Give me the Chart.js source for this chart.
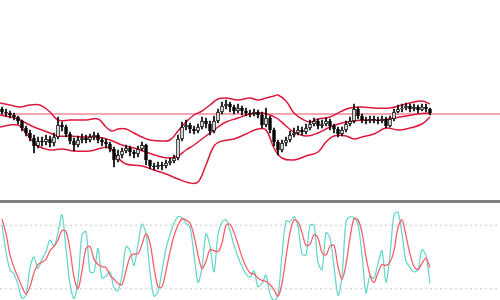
<!DOCTYPE html>
<html lang="en">
<head>
  <meta charset="UTF-8" />
  <title>Price chart</title>
  <style>
    html, body {
      margin: 0;
      padding: 0;
      background: #fff;
      overflow: hidden;
      width: 500px;
      height: 300px;
    }

    #main {
      position: absolute;
      left: 0;
      top: 0;
    }

    #sep {
      position: absolute;
      left: 0;
      top: 200px;
      width: 500px;
      height: 3px;
      background: #808080;
    }

    #stoch {
      position: absolute;
      left: 0;
      top: 204px;
    }
  </style>
</head>
<body>
  <canvas id="main" width="500" height="200"></canvas>
  <div id="sep"></div>
  <canvas id="stoch" width="500" height="106"></canvas>
  <script src="https://cdn.jsdelivr.net/npm/chart.js@4.4.0/dist/chart.umd.min.js"></script>
  <script>
    // candles, one per bar
    const opens = [1.2982,1.2976,1.2974,1.2970,1.2966,1.2958,1.2944,1.2934,1.2924,1.2908,
      1.2918,1.2916,1.2922,1.2914,1.2926,1.2950,1.2946,1.2932,1.2918,1.2910,
      1.2920,1.2924,1.2920,1.2926,1.2930,1.2920,1.2916,1.2912,1.2902,1.2880,
      1.2890,1.2898,1.2904,1.2896,1.2892,1.2902,1.2910,1.2880,1.2868,1.2866,
      1.2870,1.2868,1.2874,1.2878,1.2884,1.2922,1.2946,1.2950,1.2942,1.2938,
      1.2946,1.2958,1.2952,1.2938,1.2958,1.2976,1.2988,1.2992,1.2986,1.2978,
      1.2984,1.2978,1.2974,1.2972,1.2976,1.2970,1.2950,1.2964,1.2940,1.2916,
      1.2900,1.2914,1.2920,1.2930,1.2934,1.2940,1.2936,1.2944,1.2952,1.2958,
      1.2948,1.2952,1.2958,1.2948,1.2942,1.2932,1.2940,1.2952,1.2958,1.2982,
      1.2968,1.2960,1.2958,1.2962,1.2960,1.2958,1.2962,1.2948,1.2962,1.2976,
      1.2982,1.2984,1.2988,1.2982,1.2986,1.2980,1.2986,1.2982];
    const closes = [1.2976,1.2974,1.2970,1.2966,1.2958,1.2944,1.2934,1.2924,1.2908,1.2918,
      1.2916,1.2922,1.2914,1.2926,1.2950,1.2946,1.2932,1.2918,1.2910,1.2920,
      1.2924,1.2920,1.2926,1.2930,1.2920,1.2916,1.2912,1.2902,1.2880,1.2890,
      1.2898,1.2904,1.2896,1.2892,1.2902,1.2910,1.2880,1.2868,1.2866,1.2870,
      1.2868,1.2874,1.2878,1.2884,1.2922,1.2946,1.2950,1.2942,1.2938,1.2946,
      1.2958,1.2952,1.2938,1.2958,1.2976,1.2988,1.2992,1.2986,1.2978,1.2984,
      1.2978,1.2974,1.2972,1.2976,1.2970,1.2950,1.2964,1.2940,1.2916,1.2900,
      1.2914,1.2920,1.2930,1.2934,1.2940,1.2936,1.2944,1.2952,1.2958,1.2948,
      1.2952,1.2958,1.2948,1.2942,1.2932,1.2940,1.2952,1.2958,1.2982,1.2968,
      1.2960,1.2958,1.2962,1.2960,1.2958,1.2962,1.2948,1.2962,1.2976,1.2982,
      1.2984,1.2988,1.2982,1.2986,1.2980,1.2986,1.2982,1.2974];
    const highs = [1.2986,1.2982,1.2978,1.2974,1.2968,1.2960,1.2948,1.2940,1.2930,1.2926,
      1.2926,1.2930,1.2928,1.2934,1.2966,1.2956,1.2950,1.2936,1.2924,1.2928,
      1.2932,1.2930,1.2932,1.2936,1.2934,1.2924,1.2922,1.2916,1.2906,1.2900,
      1.2904,1.2910,1.2908,1.2900,1.2908,1.2916,1.2912,1.2880,1.2874,1.2876,
      1.2876,1.2880,1.2884,1.2890,1.2930,1.2956,1.2960,1.2954,1.2948,1.2952,
      1.2966,1.2964,1.2958,1.2968,1.2982,1.2996,1.3000,1.2996,1.2990,1.2992,
      1.2988,1.2984,1.2980,1.2982,1.2980,1.2976,1.2984,1.2968,1.2944,1.2920,
      1.2920,1.2926,1.2938,1.2944,1.2948,1.2946,1.2952,1.2960,1.2964,1.2962,
      1.2960,1.2964,1.2962,1.2952,1.2946,1.2946,1.2958,1.2966,1.2992,1.2986,
      1.2972,1.2966,1.2968,1.2968,1.2966,1.2968,1.2966,1.2968,1.2982,1.2990,
      1.2992,1.2994,1.2992,1.2992,1.2990,1.2992,1.2992,1.2984];
    const lows = [1.2972,1.2968,1.2964,1.2960,1.2952,1.2938,1.2928,1.2918,1.2894,1.2904,
      1.2908,1.2910,1.2906,1.2908,1.2922,1.2938,1.2926,1.2912,1.2898,1.2906,
      1.2914,1.2914,1.2916,1.2920,1.2914,1.2908,1.2904,1.2896,1.2866,1.2876,
      1.2884,1.2894,1.2888,1.2884,1.2886,1.2898,1.2870,1.2862,1.2860,1.2862,
      1.2860,1.2864,1.2870,1.2874,1.2880,1.2918,1.2940,1.2934,1.2932,1.2934,
      1.2942,1.2944,1.2930,1.2934,1.2954,1.2972,1.2982,1.2976,1.2972,1.2974,
      1.2970,1.2968,1.2966,1.2968,1.2964,1.2944,1.2946,1.2934,1.2908,1.2890,
      1.2896,1.2908,1.2916,1.2926,1.2930,1.2930,1.2932,1.2940,1.2948,1.2942,
      1.2944,1.2948,1.2940,1.2934,1.2926,1.2928,1.2936,1.2948,1.2954,1.2962,
      1.2954,1.2952,1.2954,1.2954,1.2952,1.2954,1.2944,1.2946,1.2958,1.2974,
      1.2976,1.2980,1.2976,1.2978,1.2974,1.2978,1.2976,1.2970];

    const priceLine = 1.2972;

    // bollinger bands, [bar, price]
    const upperBand = [[-0.5,1.2994],[2,1.2990],[4.5,1.2986],[7,1.2990],[9.5,1.2990],[12,1.2976],
      [14,1.2960],[17,1.2960],[21,1.2960],[24,1.2962],[26,1.2946],[27.5,1.2938],[29,1.2942],
      [31,1.2942],[33,1.2934],[35,1.2926],[37,1.2920],[40,1.2918],[42,1.2920],[44,1.2938],
      [46,1.2956],[48,1.2970],[50,1.2978],[52,1.2990],[54,1.3002],[56,1.3004],[59,1.3000],
      [62,1.3004],[64,1.3000],[66,1.3004],[68,1.3008],[69,1.3010],[71,1.2998],[72,1.2986],
      [73,1.2974],[75,1.2962],[77,1.2956],[79,1.2962],[82,1.2966],[85,1.2978],[87,1.2984],
      [90,1.2986],[93,1.2984],[97,1.2984],[100,1.2990],[102,1.2994],[105,1.2998],[107,1.2992]];
    const middleBand = [[-0.5,1.2970],[2,1.2966],[4,1.2962],[6,1.2954],[8,1.2946],[10,1.2940],
      [12,1.2934],[14,1.2928],[17,1.2928],[20,1.2926],[24,1.2926],[27,1.2920],[30,1.2910],
      [33,1.2904],[36,1.2896],[39,1.2888],[42,1.2884],[44,1.2888],[46,1.2900],[48,1.2910],
      [50,1.2922],[52,1.2934],[54,1.2946],[56,1.2956],[59,1.2964],[62,1.2972],[65,1.2974],
      [67,1.2970],[69,1.2962],[71,1.2948],[73,1.2936],[76,1.2928],[79,1.2934],[82,1.2946],
      [85,1.2954],[88,1.2958],[91,1.2960],[95,1.2960],[98,1.2964],[101,1.2968],[104,1.2972],
      [107,1.2974]];
    const lowerBand = [[-0.5,1.2946],[2,1.2950],[4,1.2950],[5,1.2944],[7,1.2924],[9,1.2908],
      [12,1.2900],[15,1.2902],[18,1.2898],[22,1.2898],[25,1.2904],[27,1.2904],[29,1.2884],
      [31,1.2872],[35,1.2868],[38,1.2860],[41,1.2852],[44,1.2842],[47,1.2834],[49,1.2836],
      [51,1.2870],[53,1.2908],[55,1.2918],[58,1.2922],[61,1.2932],[64,1.2942],[66,1.2940],
      [68,1.2904],[70,1.2884],[73,1.2880],[76,1.2888],[79,1.2896],[81,1.2916],[83,1.2928],
      [86,1.2928],[88,1.2922],[90,1.2926],[93,1.2932],[96,1.2944],[99,1.2940],[102,1.2944],
      [105,1.2952],[107,1.2966]];

    // stochastic %K and %D, one per bar
    const stochK = [80,55,38,34,24,11,14,40,50,39,48,55,66,60,73,90,58,24,11,28,
      71,74,36,36,58,30,32,36,21,18,33,60,56,42,62,81,72,36,13,17,
      37,58,71,82,88,87,82,78,52,26,40,72,60,36,71,83,85,75,61,50,
      41,34,31,37,22,25,33,15,9,14,52,84,83,88,79,53,52,80,80,45,
      38,73,68,41,14,32,83,88,87,81,52,16,32,30,44,56,26,52,90,92,
      72,46,40,36,38,57,51,25];
    const stochD = [86,72,52,40,31,22,15,22,35,43,45,48,56,60,66,75,74,57,31,20,
      37,58,60,48,43,41,40,33,29,25,24,37,50,53,53,62,72,63,40,22,
      22,37,55,70,80,86,85,82,70,52,39,46,57,56,55,63,80,81,73,62,
      50,41,35,34,30,28,27,24,19,13,25,50,73,85,83,73,61,62,71,68,
      54,52,60,61,41,29,43,68,86,85,73,50,33,26,35,43,42,45,56,78,
      85,70,53,41,38,44,49,40];
    const stochLevels = [80, 20];

    const xMin = -0.5;
    const xMax = 124.5;

    const bars = opens.map((o, i) => i);
    const up = bars.map(i => closes[i] >= opens[i]);

    const bandStyle = {
      type: "line",
      borderColor: "rgb(222, 24, 60)",
      borderWidth: 1.5,
      pointRadius: 0,
      fill: false,
      tension: 0.4,
      order: 2,
    };

    new Chart(document.getElementById("main").getContext("2d"), {
      type: "bar",
      data: {
        datasets: [
          {
            label: "wick",
            data: bars.map(i => ({ x: i, y: [lows[i], highs[i]] })),
            backgroundColor: "#000",
            barThickness: 1,
            grouped: false,
            order: 1,
          },
          {
            label: "body",
            data: bars.map(i => ({ x: i, y: [opens[i], closes[i]] })),
            backgroundColor: bars.map(i => up[i] ? "#fff" : "#000"),
            borderColor: "#000",
            borderWidth: 1,
            borderSkipped: false,
            barThickness: 3,
            grouped: false,
            order: 0,
          },
          Object.assign({}, bandStyle, { label: "upper", data: upperBand.map(p => ({ x: p[0], y: p[1] })) }),
          Object.assign({}, bandStyle, { label: "middle", data: middleBand.map(p => ({ x: p[0], y: p[1] })) }),
          Object.assign({}, bandStyle, { label: "lower", data: lowerBand.map(p => ({ x: p[0], y: p[1] })) }),
          {
            type: "line",
            label: "price",
            data: [{ x: xMin, y: priceLine }, { x: xMax, y: priceLine }],
            borderColor: "rgb(232, 80, 100)",
            borderWidth: 1,
            pointRadius: 0,
            order: 3,
          },
        ],
      },
      options: {
        responsive: false,
        animation: false,
        layout: { padding: 0 },
        plugins: { legend: { display: false }, tooltip: { enabled: false } },
        scales: {
          x: { type: "linear", min: xMin, max: xMax, offset: false, display: false },
          y: { min: 1.2800, max: 1.3200, display: false },
        },
      },
    });

    new Chart(document.getElementById("stoch").getContext("2d"), {
      type: "line",
      data: {
        datasets: [
          {
            label: "signal",
            data: bars.map(i => ({ x: i, y: stochD[i] })),
            borderColor: "rgb(245, 95, 105)",
            borderWidth: 1.3,
            pointRadius: 0,
            tension: 0.3,
            order: 0,
          },
          {
            label: "main",
            data: bars.map(i => ({ x: i, y: stochK[i] })),
            borderColor: "rgb(105, 215, 205)",
            borderWidth: 1.3,
            pointRadius: 0,
            tension: 0.3,
            order: 1,
          },
        ].concat(stochLevels.map(v => ({
          label: "level " + v,
          data: [{ x: xMin, y: v }, { x: xMax, y: v }],
          borderColor: "#c8c8c8",
          borderWidth: 1,
          borderDash: [2, 3],
          pointRadius: 0,
          order: 2,
        }))),
      },
      options: {
        responsive: false,
        animation: false,
        layout: { padding: 0 },
        plugins: { legend: { display: false }, tooltip: { enabled: false } },
        scales: {
          x: { type: "linear", min: xMin, max: xMax, display: false },
          y: { min: 0, max: 100, display: false },
        },
      },
    });
  </script>
</body>
</html>
